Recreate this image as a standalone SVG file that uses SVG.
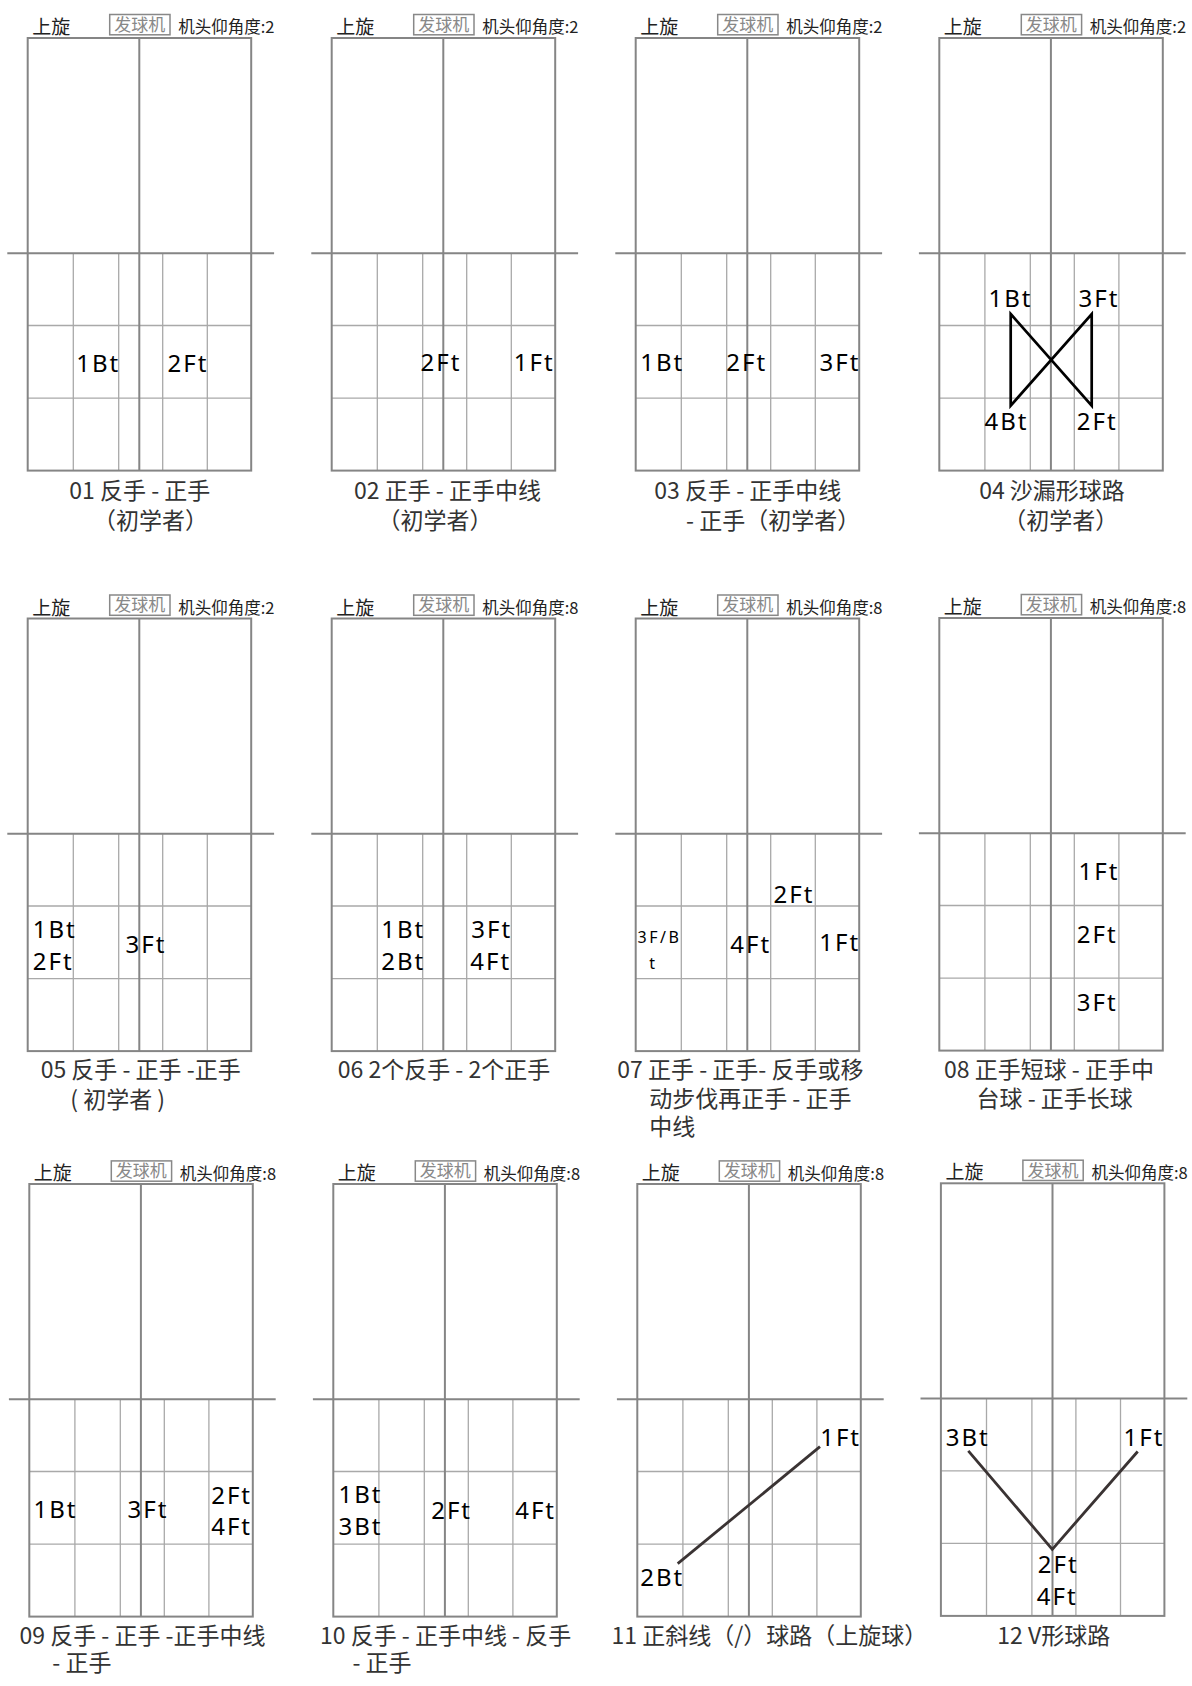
<svg xmlns="http://www.w3.org/2000/svg" width="1192" height="1686" viewBox="0 0 1192 1686">
<style>
.outer{fill:none;stroke:#858585;stroke-width:2}
.grid{fill:none;stroke:#a9a9a9;stroke-width:1.3}
.hdr{font-family:"Noto Sans CJK SC","Noto Sans",sans-serif;font-size:19px;fill:#222}
.mach{font-family:"Noto Sans CJK SC","Noto Sans",sans-serif;font-size:16.5px;fill:#222}
.tag{font-family:"Noto Sans CJK SC",sans-serif;font-size:17px;fill:#888;text-anchor:middle}
.tagbox{fill:none;stroke:#888;stroke-width:1.5}
.lbl{font-family:"Noto Sans","Noto Sans CJK SC",sans-serif;font-size:24px;letter-spacing:2px;fill:#000}
.small{font-size:16px;letter-spacing:2.5px}
.cap{font-family:"Noto Sans CJK SC",sans-serif;font-size:23px;fill:#333}
.mid{text-anchor:middle}
.route{fill:none;stroke:#000;stroke-width:2.7;stroke-linejoin:miter}
.route2{fill:none;stroke:#3a3333;stroke-width:2.8}
</style>
<defs>
<g id="court">
<path class="grid" d="M45.6 215.2V432.6M91 215.2V432.6M135 215.2V432.6M179.6 215.2V432.6M0 287.5H223.5M0 360.1H223.5"/>
<rect class="outer" x="0" y="0" width="223.5" height="432.6"/>
<path class="outer" d="M111.6 0V432.6M-20.4 215.2H246.4"/>
</g>
</defs>
<rect x="0" y="0" width="1192" height="1686" fill="#fff"/>

<g id="p01" transform="translate(27.7 38)">
<use href="#court"/>
<text class="hdr" x="4.5" y="-3.8">上旋</text>
<rect class="tagbox" x="82" y="-23.5" width="60.3" height="20.3"/>
<text class="tag" x="112" y="-7.2">发球机</text>
<text class="mach" x="150.5" y="-4.6">机头仰角度:2</text>
<text class="lbl" x="48.5" y="333.9">1Bt</text>
<text class="lbl" x="139.8" y="333.9">2Ft</text>
<text class="cap mid" x="112.1" y="461.3">01 反手 - 正手</text>
<text class="cap mid" x="122.8" y="490.6">（初学者）</text>
</g>

<g id="p02" transform="translate(331.7 38)">
<use href="#court"/>
<text class="hdr" x="4.5" y="-3.8">上旋</text>
<rect class="tagbox" x="82" y="-23.5" width="60.3" height="20.3"/>
<text class="tag" x="112" y="-7.2">发球机</text>
<text class="mach" x="150.5" y="-4.6">机头仰角度:2</text>
<text class="lbl" x="88.8" y="333.2">2Ft</text>
<text class="lbl" x="182.1" y="333.2">1Ft</text>
<text class="cap mid" x="115.8" y="461.3">02 正手 - 正手中线</text>
<text class="cap mid" x="103.3" y="490.6">（初学者）</text>
</g>

<g id="p03" transform="translate(635.7 38)">
<use href="#court"/>
<text class="hdr" x="4.5" y="-3.8">上旋</text>
<rect class="tagbox" x="82" y="-23.5" width="60.3" height="20.3"/>
<text class="tag" x="112" y="-7.2">发球机</text>
<text class="mach" x="150.5" y="-4.6">机头仰角度:2</text>
<text class="lbl" x="4.5" y="333.2">1Bt</text>
<text class="lbl" x="90.5" y="333.2">2Ft</text>
<text class="lbl" x="183.8" y="333.2">3Ft</text>
<text class="cap mid" x="112.1" y="461.3">03 反手 - 正手中线</text>
<text class="cap" x="50.3" y="490.6">- 正手（初学者）</text>
</g>

<g id="p04" transform="translate(939.3 38)">
<use href="#court"/>
<text class="hdr" x="4.5" y="-3.8">上旋</text>
<rect class="tagbox" x="82" y="-23.5" width="60.3" height="20.3"/>
<text class="tag" x="112" y="-7.2">发球机</text>
<text class="mach" x="150.5" y="-4.6">机头仰角度:2</text>
<text class="lbl" x="49.2" y="268.5">1Bt</text>
<text class="lbl" x="139.2" y="268.5">3Ft</text>
<text class="lbl" x="45.2" y="392.4">4Bt</text>
<text class="lbl" x="137.5" y="392.4">2Ft</text>
<text class="cap mid" x="112.7" y="461.3">04 沙漏形球路</text>
<text class="cap mid" x="121.5" y="490.6">（初学者）</text>
</g>

<g id="p05" transform="translate(27.7 618.5)">
<use href="#court"/>
<text class="hdr" x="4.5" y="-3.9">上旋</text>
<rect class="tagbox" x="82" y="-23.5" width="60.3" height="20.3"/>
<text class="tag" x="112" y="-7.2">发球机</text>
<text class="mach" x="150.5" y="-4.6">机头仰角度:2</text>
<text class="lbl" x="5.1" y="319.7">1Bt</text>
<text class="lbl" x="5.1" y="351.9">2Ft</text>
<text class="lbl" x="97.8" y="334">3Ft</text>
<text class="cap mid" x="113" y="459.7">05 反手 - 正手 -正手</text>
<text class="cap mid" x="90" y="489.4">( 初学者 )</text>
</g>

<g id="p06" transform="translate(331.7 618.5)">
<use href="#court"/>
<text class="hdr" x="4.5" y="-3.9">上旋</text>
<rect class="tagbox" x="82" y="-23.5" width="60.3" height="20.3"/>
<text class="tag" x="112" y="-7.2">发球机</text>
<text class="mach" x="150.5" y="-4.6">机头仰角度:8</text>
<text class="lbl" x="49.5" y="319.7">1Bt</text>
<text class="lbl" x="49.5" y="351.9">2Bt</text>
<text class="lbl" x="139.5" y="319.7">3Ft</text>
<text class="lbl" x="138.5" y="351.9">4Ft</text>
<text class="cap mid" x="112.3" y="459.7">06 2个反手 - 2个正手</text>
</g>

<g id="p07" transform="translate(635.7 618.5)">
<use href="#court"/>
<text class="hdr" x="4.5" y="-3.9">上旋</text>
<rect class="tagbox" x="82" y="-23.5" width="60.3" height="20.3"/>
<text class="tag" x="112" y="-7.2">发球机</text>
<text class="mach" x="150.5" y="-4.6">机头仰角度:8</text>
<text class="lbl" x="137.8" y="284.7">2Ft</text>
<text class="lbl small" x="1.8" y="324.7">3F/B</text>
<text class="lbl small" x="13.5" y="350.8">t</text>
<text class="lbl" x="94.5" y="334.7">4Ft</text>
<text class="lbl" x="183.5" y="332.9">1Ft</text>
<text class="cap" x="-18.4" y="459.7">07 正手 - 正手- 反手或移</text>
<text class="cap" x="13.5" y="488.3">动步伐再正手 - 正手</text>
<text class="cap" x="13.5" y="516.9">中线</text>
</g>

<g id="p08" transform="translate(939.3 618)">
<use href="#court"/>
<text class="hdr" x="4.5" y="-3.9">上旋</text>
<rect class="tagbox" x="82" y="-23.5" width="60.3" height="20.3"/>
<text class="tag" x="112" y="-7.2">发球机</text>
<text class="mach" x="150.5" y="-4.6">机头仰角度:8</text>
<text class="lbl" x="139.2" y="262">1Ft</text>
<text class="lbl" x="137.5" y="324.5">2Ft</text>
<text class="lbl" x="137.5" y="393.4">3Ft</text>
<text class="cap" x="4.7" y="460.2">08 正手短球 - 正手中</text>
<text class="cap" x="37.2" y="488.8">台球 - 正手长球</text>
</g>

<g id="p09" transform="translate(29.3 1184)">
<use href="#court"/>
<text class="hdr" x="4.5" y="-3.9">上旋</text>
<rect class="tagbox" x="82" y="-23.1" width="60.3" height="20.3"/>
<text class="tag" x="112" y="-6.8">发球机</text>
<text class="mach" x="150.5" y="-4.4">机头仰角度:8</text>
<text class="lbl" x="4.2" y="333.5">1Bt</text>
<text class="lbl" x="98.2" y="333.5">3Ft</text>
<text class="lbl" x="181.9" y="319.8">2Ft</text>
<text class="lbl" x="181.9" y="350.6">4Ft</text>
<text class="cap" x="-9.8" y="460">09 反手 - 正手 -正手中线</text>
<text class="cap" x="23" y="487.3">- 正手</text>
</g>

<g id="p10" transform="translate(333.3 1184)">
<use href="#court"/>
<text class="hdr" x="4.5" y="-3.9">上旋</text>
<rect class="tagbox" x="82" y="-23.1" width="60.3" height="20.3"/>
<text class="tag" x="112" y="-6.8">发球机</text>
<text class="mach" x="150.5" y="-4.4">机头仰角度:8</text>
<text class="lbl" x="5.2" y="319.1">1Bt</text>
<text class="lbl" x="5.2" y="350.6">3Bt</text>
<text class="lbl" x="97.9" y="334.5">2Ft</text>
<text class="lbl" x="181.9" y="334.5">4Ft</text>
<text class="cap" x="-13.3" y="460">10 反手 - 正手中线 - 反手</text>
<text class="cap" x="19.2" y="487.3">- 正手</text>
</g>

<g id="p11" transform="translate(637.3 1184)">
<use href="#court"/>
<text class="hdr" x="4.5" y="-3.9">上旋</text>
<rect class="tagbox" x="82" y="-23.1" width="60.3" height="20.3"/>
<text class="tag" x="112" y="-6.8">发球机</text>
<text class="mach" x="150.5" y="-4.4">机头仰角度:8</text>
<text class="lbl" x="182.9" y="261.7">1Ft</text>
<text class="lbl" x="2.9" y="401.8">2Bt</text>
<text class="cap" x="-25.8" y="460">11 正斜线（/）球路（上旋球）</text>
</g>

<g id="p12" transform="translate(940.9 1183.3)">
<use href="#court"/>
<text class="hdr" x="4.5" y="-3.9">上旋</text>
<rect class="tagbox" x="82" y="-23.1" width="60.3" height="20.3"/>
<text class="tag" x="112" y="-6.8">发球机</text>
<text class="mach" x="150.5" y="-4.4">机头仰角度:8</text>
<text class="lbl" x="4.9" y="262.4">3Bt</text>
<text class="lbl" x="182.6" y="262.4">1Ft</text>
<text class="lbl" x="96.9" y="389.9">2Ft</text>
<text class="lbl" x="95.9" y="421.4">4Ft</text>
<text class="cap mid" x="112.8" y="460.7">12 V形球路</text>
</g>

<g id="connectors">
<path id="route-04" class="route" d="M1010.7 314L1091.7 405.6L1091.7 314L1010.7 405.6Z"/>
<path id="route-11" class="route2" d="M820 1446.7L677.7 1563.6"/>
<path id="route-12" class="route2" d="M968.3 1450.8L1052.3 1549.3L1137.7 1451.5"/>
</g>
</svg>
